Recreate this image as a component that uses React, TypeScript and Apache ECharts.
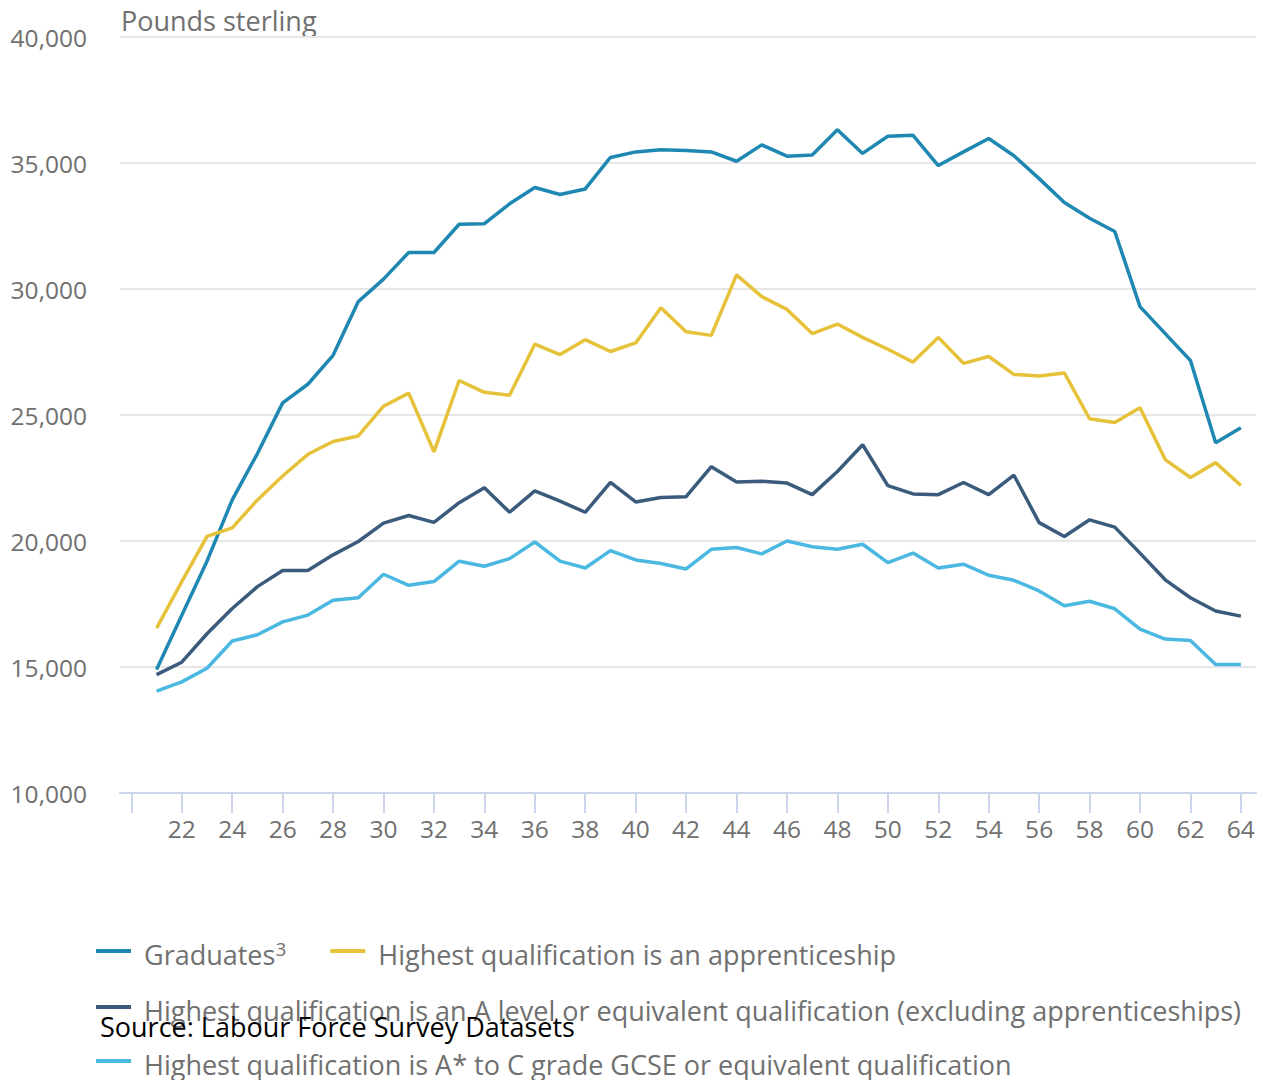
import React, { useEffect, useRef } from "react";
import * as echarts from "echarts";

const ages: number[] = [21,22,23,24,25,26,27,28,29,30,31,32,33,34,35,36,37,38,39,40,41,42,43,44,45,46,47,48,49,50,51,52,53,54,55,56,57,58,59,60,61,62,63,64];

const graduates: number[] = [14900,17050,19200,21630,23470,25480,26220,27370,29500,30390,31450,31450,32570,32590,33380,34030,33750,33970,35220,35440,35530,35500,35440,35070,35720,35270,35320,36320,35380,36060,36100,34900,35440,35970,35290,34380,33430,32810,32280,29300,28230,27160,23900,24490];
const apprenticeship: number[] = [16540,18390,20180,20520,21630,22580,23440,23950,24170,25350,25870,23540,26370,25900,25780,27810,27400,27990,27520,27860,29260,28300,28160,30560,29700,29190,28230,28610,28080,27610,27100,28080,27050,27320,26610,26550,26670,24850,24700,25290,23230,22520,23110,22200];
const aLevel: number[] = [14700,15190,16320,17320,18190,18830,18830,19450,19980,20710,21010,20740,21520,22110,21140,21990,21580,21140,22330,21550,21730,21760,22950,22340,22370,22300,21840,22760,23820,22200,21870,21840,22320,21840,22610,20730,20180,20840,20550,19520,18460,17750,17220,17020];
const gcse: number[] = [14040,14410,14950,16030,16280,16790,17060,17650,17750,18680,18240,18390,19200,19000,19300,19960,19200,18930,19620,19250,19110,18890,19670,19740,19490,20000,19770,19670,19870,19140,19520,18930,19080,18640,18440,18020,17430,17610,17310,16500,16110,16050,15100,15100];

const seriesNames: string[] = [
  "Graduates",
  "Highest qualification is an apprenticeship",
  "Highest qualification is an A level or equivalent qualification (excluding apprenticeships)",
  "Highest qualification is A* to C grade GCSE or equivalent qualification",
];
const seriesColors: string[] = ["#1f88b2", "#e6c23a", "#3b5b7d", "#4bb8e2"];

const xTickValues: number[] = [20,22,24,26,28,30,32,34,36,38,40,42,44,46,48,50,52,54,56,58,60,62,64];
const xLabelValues: number[] = [22,24,26,28,30,32,34,36,38,40,42,44,46,48,50,52,54,56,58,60,62,64];

const FONT = "Open Sans";
const GREY = "#707070";

export default function App() {
  const ref = useRef<HTMLDivElement>(null);
  useEffect(() => {
    if (!ref.current) return;
    const chart = echarts.init(ref.current, undefined, { renderer: "svg" });
    const allValues = [graduates, apprenticeship, aLevel, gcse];
    const legendText = {
      color: GREY,
      fontFamily: FONT,
      fontSize: 27,
      padding: [7, 0, 0, 8],
      rich: {
        a: { color: GREY, fontFamily: FONT, fontSize: 27, lineHeight: 31 },
        sup: { color: GREY, fontFamily: FONT, fontSize: 19, lineHeight: 19, verticalAlign: "top" },
      },
    };
    const legendCommon = {
      orient: "horizontal",
      icon: "rect",
      itemWidth: 35,
      itemHeight: 4,
      itemGap: 44,
      padding: 0,
      textStyle: legendText,
      formatter: (name: string) => (name === "Graduates" ? "{a|Graduates}{sup|3}" : name),
    };
    chart.setOption({
      animation: false,
      textStyle: { fontFamily: FONT },
      grid: { left: 120, right: 9, top: 37, bottom: 287, containLabel: false },
      xAxis: {
        type: "value",
        min: 19.55,
        max: 64.6,
        axisLine: { show: true, lineStyle: { color: "#ccd6eb", width: 2 } },
        axisTick: { show: true, length: 20, customValues: xTickValues, lineStyle: { color: "#ccd6eb", width: 2 } },
        axisLabel: { customValues: xLabelValues, color: GREY, fontSize: 24.5, fontFamily: FONT, margin: 23 },
        splitLine: { show: false },
      },
      yAxis: {
        type: "value",
        min: 10000,
        max: 40000,
        interval: 5000,
        axisLine: { show: false },
        axisTick: { show: false },
        axisLabel: {
          color: GREY,
          fontSize: 24.5,
          fontFamily: FONT,
          margin: 33,
          padding: [7, 0, 0, 0],
          formatter: (v: number) => v.toLocaleString("en-US"),
        },
        splitLine: { lineStyle: { color: "#e6e6e6", width: 2 } },
      },
      legend: [
        { ...legendCommon, left: 96, top: 939, data: [seriesNames[0], seriesNames[1]] },
        { ...legendCommon, left: 96, top: 997, data: [seriesNames[2]] },
        { ...legendCommon, left: 96, top: 1051, data: [seriesNames[3]] },
      ],
      graphic: [
        {
          type: "text",
          left: 121,
          top: 7,
          style: { text: "Pounds sterling", fill: GREY, fontSize: 27, fontFamily: FONT },
        },
        {
          type: "text",
          left: 100,
          top: 1013,
          z: 100,
          style: { text: "Source: Labour Force Survey Datasets", fill: "#000000", fontSize: 27, fontFamily: FONT },
        },
      ],
      series: seriesNames.map((name, i) => ({
        name,
        type: "line",
        data: ages.map((a, j) => [a, allValues[i][j]]),
        showSymbol: false,
        symbol: "none",
        lineStyle: { width: 3.5, color: seriesColors[i] },
        itemStyle: { color: seriesColors[i] },
        emphasis: { disabled: true },
      })),
    });
    return () => chart.dispose();
  }, []);
  return <div ref={ref} style={{ width: 1265, height: 1080, position: "absolute", left: 0, top: 0 }} />;
}
